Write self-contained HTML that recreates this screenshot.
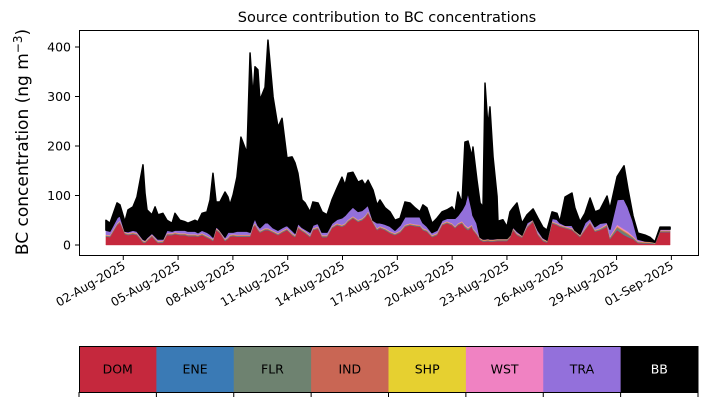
<!DOCTYPE html>
<html><head><meta charset="utf-8"><style>
body{margin:0;background:#fff;font-family:"Liberation Sans","DejaVu Sans",sans-serif;}
svg text{font-family:"DejaVu Sans","Liberation Sans",sans-serif;}
</style></head><body>
<svg id="chart" width="707" height="402" viewBox="0 0 707 402" xmlns="http://www.w3.org/2000/svg">
<rect width="707" height="402" fill="#fff"/>
<text x="387" y="22" text-anchor="middle" font-size="14.5">Source contribution to BC concentrations</text>
<text transform="translate(28,142) rotate(-90)" text-anchor="middle" font-size="17">BC concentration (ng m<tspan dy="-6" font-size="12">−3</tspan><tspan dy="6">)</tspan></text>
<g id="areas"></g>
<rect x="79.5" y="30.5" width="619" height="225" fill="none" stroke="#000" stroke-width="1"/>
<g id="axes"></g>
<g id="legend"></g>
</svg>
<script>
const times=[0.05,0.27,0.66,0.82,1.09,1.26,1.53,1.75,2.08,2.19,
2.30,2.57,2.74,2.90,3.17,3.39,3.67,3.83,4.10,4.38,
4.54,4.93,5.09,5.31,5.58,5.75,5.91,6.08,6.29,6.57,
6.73,6.84,7.01,7.22,7.44,7.77,7.94,8.10,8.21,8.37,
8.48,8.76,8.92,9.20,9.47,9.69,9.96,10.24,10.40,
10.56,10.78,10.95,11.22,11.38,11.66,11.88,12.15,12.42,12.70,
12.97,13.14,13.30,13.57,13.85,14.07,14.23,14.40,14.67,14.89,
15.05,15.33,15.60,15.87,16.15,16.42,16.69,16.97,17.24,17.40,
17.62,17.90,18.17,18.45,18.72,18.99,19.16,19.32,19.54,19.70,
19.87,20.09,20.14,20.36,20.53,20.69,
20.80,20.96,21.07,21.24,21.46,21.51,21.78,22.00,22.17,22.33,
22.55,22.82,23.10,23.43,23.70,23.97,24.19,24.47,24.74,24.90,
25.18,25.56,25.72,26.00,26.27,26.55,26.82,27.09,27.48,27.64,
28.03,28.41,28.63,28.90,29.17,29.56,29.83,30.10,30.38,30.76,
30.93];
const DOM=[17,16,40,45,22,20,22,20,5,4,
8,17,10,4,5,20,20,22,20,20,
18,18,17,20,15,12,8,30,24,8,
12,17,18,17,17,17,17,35,40,30,
25,30,30,25,20,25,30,20,16,
34,28,24,16,30,33,16,16,34,40,
37,40,47,54,47,50,55,64,44,30,
34,30,24,20,25,37,40,38,37,30,
27,16,20,40,44,40,34,40,44,35,
30,37,30,20,10,7,
7,8,7,7,8,8,8,8,15,30,
20,15,35,47,20,8,5,44,40,37,
34,30,25,16,30,44,27,30,37,12,
30,20,16,12,4,3,3,2,26,26,
26];
const ENE=[0.5,0.5,0.5,0.5,0.5,0.5,0.5,0.5,0.5,0.5,
0.5,0.5,0.5,0.5,0.5,0.5,0.5,0.5,0.5,0.5,
0.5,0.5,0.5,0.5,0.5,0.5,0.5,0.5,0.5,0.5,
0.5,0.5,0.5,0.5,0.5,0.5,0.5,0.5,0.5,0.5,
0.5,0.5,0.5,0.5,0.5,0.5,0.5,0.5,0.5,
0.5,0.5,0.5,0.5,0.5,0.5,0.5,0.5,0.5,0.5,
0.5,0.5,0.5,0.5,0.5,0.5,0.5,0.5,0.5,0.5,
0.5,0.5,0.5,0.5,0.5,0.5,0.5,0.5,0.5,0.5,
0.5,0.5,0.5,0.5,0.5,0.5,0.5,0.5,0.5,0.5,
0.5,0.5,0.5,0.5,0.5,0.5,
0.5,0.5,0.5,0.5,0.5,0.5,0.5,0.5,0.5,0.5,
0.5,0.5,0.5,0.5,0.5,0.5,0.5,0.5,0.5,0.5,
0.5,0.5,0.5,0.5,0.5,0.5,0.5,0.5,0.5,0.5,
1,1,1,0.5,0.5,0.5,0.5,0.5,0.5,0.5,
0.5];
const FLR=[1,1,1,1,1,1,1,1,1,1,
1,1,1,1,1,1,1,1,1,1,
1,1,1,1,1,1,1,1,1,1,
1,1,1,1,1,1,1,1,1,1,
1,1,1,1,1,1,1,1,1,
1,1,1,1,1,1,1,1,1,1,
1,1,1,1,1,1,1,1,1,1,
1,1,1,1,1,1,1,1,1,1,
1,1,1,1,1,1,1,1,1,2,
2,1,1,1,1,1,
1,1,1,1,1,1,1,1,1,1,
1,1,1,1,1,1,1,1,1,1,
1,1,1,1,1,1,1,1,2,2,
4,5,4,2,1,1,1,0.5,1,1,
1];
const IND=[1,1,1,1,1,1,1,1,1,1,
1,1,1,1,1,1,1,1,1,1,
1,1,1,1,1,1,1,1,1,1,
1,1,1,1,1,1,1,1,1,1,
1,1,1,1,1,1,1,1,1,
1,1,1,1,1,1,1,1,1,1,
1,1,1,1,1,1,1,1,1,1,
1,1,1,1,1,1,1,1,1,1,
1,1,1,1,1,1,1,1,1,1,
1,1,1,1,1,1,
1,1,1,1,1,1,1,1,1,1,
1,1,1,1,1,1,1,1,1,1,
1,1,1,1,1,1,1,1,1,1,
2,2,2,1,1,1,1,0.5,1,1,
1];
const SHP=[0.5,0.5,0.5,0.5,0.5,0.5,0.5,0.5,0.5,0.5,
0.5,0.5,0.5,0.5,0.5,0.5,0.5,0.5,0.5,0.5,
0.5,0.5,0.5,0.5,0.5,0.5,0.5,0.5,0.5,0.5,
0.5,0.5,0.5,0.5,0.5,0.5,0.5,0.5,0.5,0.5,
0.5,0.5,0.5,0.5,0.5,0.5,0.5,0.5,0.5,
0.5,0.5,0.5,0.5,0.5,0.5,0.5,0.5,0.5,0.5,
0.5,0.5,0.5,0.5,0.5,0.5,0.5,0.5,0.5,0.5,
0.5,0.5,0.5,0.5,0.5,0.5,0.5,0.5,0.5,0.5,
0.5,0.5,0.5,0.5,0.5,0.5,0.5,0.5,0.5,0.5,
0.5,0.5,0.5,0.5,0.5,0.5,
0.5,0.5,0.5,0.5,0.5,0.5,0.5,0.5,0.5,0.5,
0.5,0.5,0.5,0.5,0.5,0.5,0.5,0.5,0.5,0.5,
0.5,0.5,0.5,0.5,0.5,0.5,0.5,0.5,0.5,0.5,
1,1,1,0.5,0.5,0.5,0.5,0.5,0.5,0.5,
0.5];
const WST=[1,1,1,1,1,1,1,1,1,1,
1,1,1,1,1,1,1,1,1,1,
1,1,1,1,1,1,1,1,1,1,
1,1,1,1,1,1,1,1,1,1,
1,1,1,1,1,1,1,1,1,
1,1,1,1,1,1,1,1,1,1,
1,1,1,1,1,1,1,1,1,1,
1,1,1,1,1,1,1,1,1,1,
1,1,1,1,1,1,1,1,1,2,
2,1,1,1,1,1,
1,1,1,1,1,1,1,1,1,1,
1,1,1,1,1,1,1,1,1,1,
1,1,1,1,1,1,1,1,2,2,
3,3,3,2,1,1,0.5,0.5,1,1,
1];
const TRA=[9,8,11,11,2,3,4,4,3,2,
3,3,4,4,3,6,4,4,6,6,
6,6,4,6,7,6,4,4,2,4,
10,5,4,7,7,7,5,6,10,6,
6,11,11,6,6,6,6,6,4,
6,4,4,6,6,7,6,6,6,8,
14,16,16,19,17,16,16,13,2,11,
7,8,10,6,11,16,13,15,16,11,
7,5,6,6,6,10,16,16,23,41,
71,30,26,20,2,1,
1,1,1,1,1,1,1,1,1,3,
4,1,6,1,6,3,1,6,8,4,
2,6,1,2,11,6,6,10,3,14,
51,61,50,31,4,1,1,1,2,2,
2];
const BB=[20,16,30,21,19,44,47,69,150,95,
56,37,59,49,52,20,16,34,20,17,
16,22,22,34,41,69,129,49,57,91,
71,55,75,109,190,158,362,254,306,314,
258,274,369,264,208,221,136,148,142,
101,55,53,41,47,41,41,35,47,63,
82,61,78,70,59,61,46,50,61,36,
46,33,29,20,14,30,28,18,10,36,
37,19,24,17,17,23,13,47,14,126,
103,107,138,87,69,65,
315,226,267,166,85,35,38,24,47,38,
57,24,16,21,24,21,20,13,12,2,
57,65,45,25,19,41,30,27,53,41,
46,67,35,10,12,12,8,1,4,4,
4];
const sourceNames=["DOM","ENE","FLR","IND","SHP","WST","TRA","BB"];
const sourceColors=["#c5283d","#3a7ab5","#6e8270","#c96654","#e6d030","#f082c2","#9370db","#000000"];
const yTicks=[0,100,200,300,400];
const xTickDays=[1,4,7,10,13,16,19,22,25,28,31];
const xTickLabels=["02-Aug-2025","05-Aug-2025","08-Aug-2025","11-Aug-2025","14-Aug-2025","17-Aug-2025","20-Aug-2025","23-Aug-2025","26-Aug-2025","29-Aug-2025","01-Sep-2025"];

const NS="http://www.w3.org/2000/svg";
const xs=t=>105+t*18.27;
const ys=v=>245-v*0.495;
function mk(tag,attrs,parent){const e=document.createElementNS(NS,tag);for(const k in attrs)e.setAttribute(k,attrs[k]);parent.appendChild(e);return e;}
const series=[DOM,ENE,FLR,IND,SHP,WST,TRA,BB];
const areas=document.getElementById('areas');
const lower=times.map(()=>0);
series.forEach((s,si)=>{
  const upper=lower.map((l,i)=>l+s[i]);
  let d="M"+times.map((t,i)=>xs(t).toFixed(2)+","+ys(upper[i]).toFixed(2)).join("L");
  for(let i=times.length-1;i>=0;i--)d+="L"+xs(times[i]).toFixed(2)+","+ys(lower[i]).toFixed(2);
  d+="Z";
  const p=mk('path',{d:d,fill:sourceColors[si],stroke:sourceColors[si],'stroke-width':si===7?1.5:0.4,'stroke-linejoin':'round'},areas);
  
  
  for(let i=0;i<lower.length;i++)lower[i]=upper[i];
});
const axes=document.getElementById('axes');
yTicks.forEach(v=>{
  const y=ys(v);
  const l=mk('line',{x1:75,x2:79.5,y1:y,y2:y,stroke:'#000'},axes);
  
  
  const t=mk('text',{x:71,y:y+4.5,'text-anchor':'end','font-size':12.5},axes);
  
  
  t.textContent=v;
});
xTickDays.forEach((d,i)=>{
  const x=xs(d);
  const l=mk('line',{x1:x,x2:x,y1:255.5,y2:260,stroke:'#000'},axes);
  
  
  const t=mk('text',{x:x+3,y:268,'text-anchor':'end','font-size':12,transform:'rotate(-30 '+(x+3)+' 268)'},axes);
  
  
  t.textContent=xTickLabels[i];
});
const leg=document.getElementById('legend');
const lx=79,lw=619/8,ly=346,lh=46;
sourceNames.forEach((n,i)=>{
  const r=mk('rect',{x:lx+i*lw,y:ly,width:lw+0.5,height:lh,fill:sourceColors[i]},leg);
  
  
  const t=mk('text',{x:lx+i*lw+lw/2,y:ly+lh/2+4.5,'text-anchor':'middle','font-size':12.5,fill:i===7?'#fff':'#000'},leg);
  
  
  t.textContent=n;
});
for(let i=0;i<=8;i++){
  const x=lx+i*lw;
  const l=mk('line',{x1:x,x2:x,y1:ly+lh,y2:ly+lh+5,stroke:'#000'},leg);
  
  
}
const fr=mk('rect',{x:lx+0.5,y:ly+0.5,width:618,height:lh,fill:'none',stroke:'#000','stroke-width':1},leg);


</script>
</body></html>
